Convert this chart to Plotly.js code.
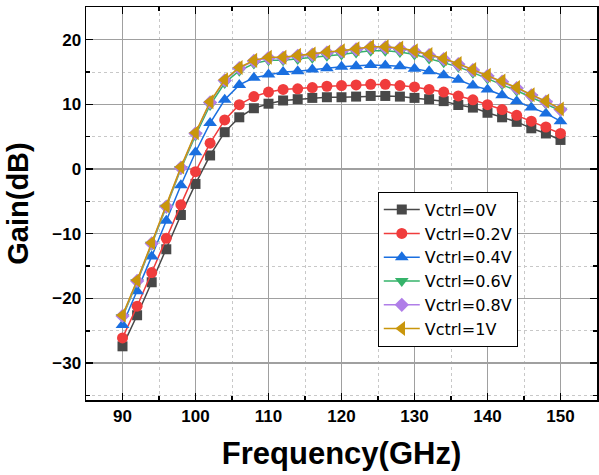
<!DOCTYPE html>
<html>
<head>
<meta charset="utf-8">
<script src="https://cdn.plot.ly/plotly-3.0.1.min.js"></script>
<style>html,body{margin:0;padding:0;background:#fff;}#chart{width:599px;height:475px;}</style>
</head>
<body>
<div id="chart"></div>
<script>
const freq = [90,92,94,96,98,100,102,104,106,108,110,112,114,116,118,120,122,124,126,128,130,132,134,136,138,140,142,144,146,148,150];
const gain0V  = [-27.4,-22.6,-17.5,-12.4,-7.1,-2.3,2.1,5.7,8.0,9.4,10.1,10.6,10.8,11.0,11.1,11.1,11.2,11.3,11.3,11.2,11.0,10.8,10.5,9.9,9.5,8.7,8.0,7.3,6.3,5.5,4.5];
const gain02V = [-26.1,-21.2,-16.0,-10.7,-5.5,-0.4,4.0,7.6,9.95,11.2,11.9,12.3,12.4,12.6,12.8,12.9,13.0,13.1,13.1,12.9,12.7,12.3,11.9,11.3,10.7,9.95,9.2,8.3,7.4,6.5,5.5];
const gain04V = [-24.1,-18.9,-13.5,-8.0,-2.5,2.6,7.1,10.7,13.0,14.1,14.6,15.0,15.1,15.4,15.6,15.8,15.9,16.1,16.0,15.9,15.5,15.1,14.5,13.8,12.9,12.3,11.4,10.5,9.5,8.6,7.4];
const gain06V = [-22.9,-17.5,-11.7,-6.0,0.0,5.2,9.9,13.3,15.2,16.3,16.8,16.8,17.0,17.2,17.5,17.7,18.0,18.3,18.3,18.1,17.7,17.1,16.5,15.8,14.9,14.0,13.1,12.1,11.1,10.1,9.0];
const gain08V = [-22.7,-17.3,-11.5,-5.8,0.2,5.5,10.3,13.7,15.6,16.7,17.2,17.2,17.5,17.7,18.0,18.2,18.5,18.8,18.8,18.6,18.2,17.6,17.0,16.2,15.3,14.4,13.5,12.5,11.4,10.4,9.2];
const gain1V  = [-22.6,-17.2,-11.4,-5.7,0.3,5.6,10.4,13.8,15.7,16.8,17.3,17.3,17.6,17.8,18.1,18.3,18.6,18.9,18.9,18.7,18.3,17.7,17.1,16.3,15.4,14.5,13.6,12.6,11.5,10.5,9.3];
const names = ['Vctrl=0V','Vctrl=0.2V','Vctrl=0.4V','Vctrl=0.6V','Vctrl=0.8V','Vctrl=1V'];

const series = [gain0V, gain02V, gain04V, gain06V, gain08V, gain1V];
const colors = ['#484848','#f03c3c','#1a6fe0','#35b36a','#b07ee8','#c9960c'];
const symbols = ['square','circle','triangle-up','triangle-down','diamond','triangle-left'];
const sizes = [10,11,12,12,11,13];

const traces = series.map((ys,i)=>({
  x: freq, y: ys, name: names[i], type:'scatter', mode:'lines+markers',
  line:{color:colors[i], width:1.5},
  marker:{symbol:symbols[i], size:sizes[i], color:colors[i], line:{width:0}}
}));

const FONT = 'Arial, "Liberation Sans", sans-serif';
const layout = {
  width:599, height:475,
  margin:{l:86, r:2, t:7, b:75},
  paper_bgcolor:'#fff', plot_bgcolor:'#fff',
  showlegend:true,
  legend:{x:0.571, y:0.53, xanchor:'left', yanchor:'top',
    bordercolor:'#000', borderwidth:1, bgcolor:'#fff',
    font:{family:'"DejaVu Sans", sans-serif', size:16, color:'#000'}, itemwidth:36, tracegroupgap:0},
  xaxis:{
    range:[85,155], tick0:90, dtick:10, tickmode:'linear',
    showline:true, linecolor:'#000', linewidth:1.5, mirror:'ticks',
    ticks:'inside', ticklen:7, tickwidth:1.5, tickcolor:'#000',
    showgrid:true, gridcolor:'#a0a0a0', gridwidth:1.3,
    zeroline:false,
    minor:{dtick:5, showgrid:true, griddash:'dot', gridcolor:'#c8c8c8', gridwidth:1, ticks:'inside', ticklen:4, tickcolor:'#000'},
    tickfont:{family:FONT, size:17, color:'#000', weight:'bold'},
    title:{text:'Frequency(GHz)', font:{family:FONT, size:31, color:'#000', weight:'bold'}, standoff:17}
  },
  yaxis:{
    range:[-35.7,25.05], tick0:-30, dtick:10, tickmode:'linear',
    showline:true, linecolor:'#000', linewidth:1.5, mirror:'ticks',
    ticks:'inside', ticklen:7, tickwidth:1.5, tickcolor:'#000',
    showgrid:true, gridcolor:'#a0a0a0', gridwidth:1.3,
    zeroline:false,
    minor:{dtick:5, showgrid:true, griddash:'dot', gridcolor:'#c8c8c8', gridwidth:1, ticks:'inside', ticklen:4, tickcolor:'#000'},
    tickfont:{family:FONT, size:17, color:'#000', weight:'bold'},
    title:{text:'Gain(dB)', font:{family:FONT, size:29, color:'#000', weight:'bold'}, standoff:15}
  }
};
Plotly.newPlot('chart', traces, layout, {displayModeBar:false, staticPlot:true});
</script>
</body>
</html>
